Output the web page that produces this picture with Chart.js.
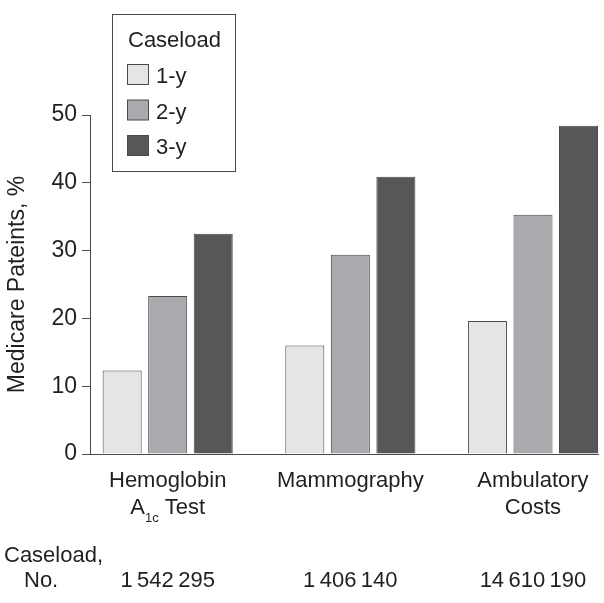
<!DOCTYPE html>
<html>
<head>
<meta charset="utf-8">
<title>Medicare patients by caseload</title>
<script src="https://cdn.jsdelivr.net/npm/chart.js@4/dist/chart.umd.min.js"></script>
<style>
  body { margin: 0; background: #fff; }
  #wrap { width: 604px; height: 603px; position: relative; }
</style>
</head>
<body>
<div id="wrap"><canvas id="caseload-chart"></canvas></div>
<script>
// categories, {..} marks a subscript
const categories = [["Hemoglobin", "A{1c} Test"], ["Mammography"], ["Ambulatory", "Costs"]];
const caseloadNo = ["1\u2009542\u2009295", "1\u2009406\u2009140", "14\u2009610\u2009190"];
const seriesNames = ["1-y", "2-y", "3-y"];
const oneYear = [12.3, 16.0, 19.6];
const twoYear = [23.3, 29.4, 35.3];
const threeYear = [32.5, 40.9, 48.4];
const yTicks = [0, 10, 20, 30, 40, 50];

const barColors = ["#e4e5e7", "#a9aaad", "#575759"];
const ink = "#231f20";
const lineColor = "#4a4a4a";
const fontFamily = "'Liberation Sans', Arial, sans-serif";

const seriesValues = [oneYear, twoYear, threeYear];

const datasets = seriesValues.map((values, s) => ({
  label: seriesNames[s],
  data: values.map((v, i) => ({ x: i, y: v })),
  backgroundColor: barColors[s],
  borderColor: lineColor,
  borderWidth: 1,
  clip: false,
  categoryPercentage: 0.748,
  barPercentage: 0.857,
}));

// draws text with {..} parts as subscripts, centred at x
function drawRich(ctx, text, x, y, size) {
  const parts = text.split(/(\{[^}]*\})/).filter((p) => p.length);
  const pieces = parts.map((p) => {
    const sub = p.startsWith("{");
    const t = sub ? p.slice(1, -1) : p;
    const f = (sub ? Math.round(size * 0.6) : size) + "px " + fontFamily;
    ctx.font = f;
    return { t, f, sub, w: ctx.measureText(t).width };
  });
  const total = pieces.reduce((a, p) => a + p.w, 0);
  let cx = x - total / 2;
  ctx.textAlign = "left";
  pieces.forEach((p) => {
    ctx.font = p.f;
    ctx.fillText(p.t, cx, p.sub ? y + 8 : y);
    cx += p.w;
  });
}

const extraText = {
  id: "extraText",
  afterDraw(chart) {
    const ctx = chart.ctx;
    const xs = chart.scales.x;
    ctx.save();
    ctx.fillStyle = ink;
    ctx.textBaseline = "alphabetic";

    // category labels
    categories.forEach((lines, i) => {
      const px = xs.getPixelForValue(i);
      lines.forEach((line, j) => {
        drawRich(ctx, line, px, 487 + j * 27, 22);
      });
      ctx.font = "22px " + fontFamily;
      ctx.textAlign = "center";
      ctx.fillText(caseloadNo[i], px, 587);
    });
    ctx.font = "22px " + fontFamily;
    ctx.textAlign = "left";
    ctx.fillText("Caseload,", 4, 562);
    ctx.fillText("No.", 24, 587);

    // legend box
    ctx.strokeStyle = lineColor;
    ctx.lineWidth = 1;
    ctx.strokeRect(112.5, 14.5, 123, 157);
    ctx.fillText("Caseload", 128, 47);
    seriesNames.forEach((name, s) => {
      const top = 64.5 + s * 35.5;
      ctx.fillStyle = barColors[s];
      ctx.fillRect(127.5, top, 21, 20);
      ctx.strokeRect(127.5, top, 21, 20);
      ctx.fillStyle = ink;
      ctx.fillText(name, 156, top + 18.5);
    });
    ctx.restore();
  },
};

new Chart(document.getElementById("caseload-chart"), {
  type: "bar",
  data: { datasets: datasets },
  options: {
    responsive: true,
    maintainAspectRatio: false,
    animation: false,
    layout: { padding: { top: 115, bottom: 149, left: 0, right: 6 } },
    plugins: {
      legend: { display: false },
      tooltip: { enabled: false },
    },
    scales: {
      x: {
        type: "linear",
        offset: false,
        min: -0.4254,
        max: 2.356,
        afterBuildTicks: (scale) => {
          scale.ticks = categories.map((c, i) => ({ value: i }));
        },
        ticks: { display: false },
        grid: { display: false, drawTicks: false },
        border: { display: true, color: lineColor, width: 1 },
      },
      y: {
        min: 0,
        max: 50,
        afterBuildTicks: (scale) => {
          scale.ticks = yTicks.map((v) => ({ value: v }));
        },
        afterFit: (scale) => {
          scale.width = 90;
        },
        ticks: {
          color: ink,
          padding: 5,
          font: { family: fontFamily, size: 23 },
        },
        grid: {
          drawOnChartArea: false,
          drawTicks: true,
          tickLength: 8,
          color: lineColor,
        },
        border: { display: true, color: lineColor, width: 1 },
        title: {
          display: true,
          text: "Medicare Pateints, %",
          color: ink,
          padding: { top: 4, bottom: 0 },
          font: { family: fontFamily, size: 23 },
        },
      },
    },
  },
  plugins: [extraText],
});
</script>
</body>
</html>
